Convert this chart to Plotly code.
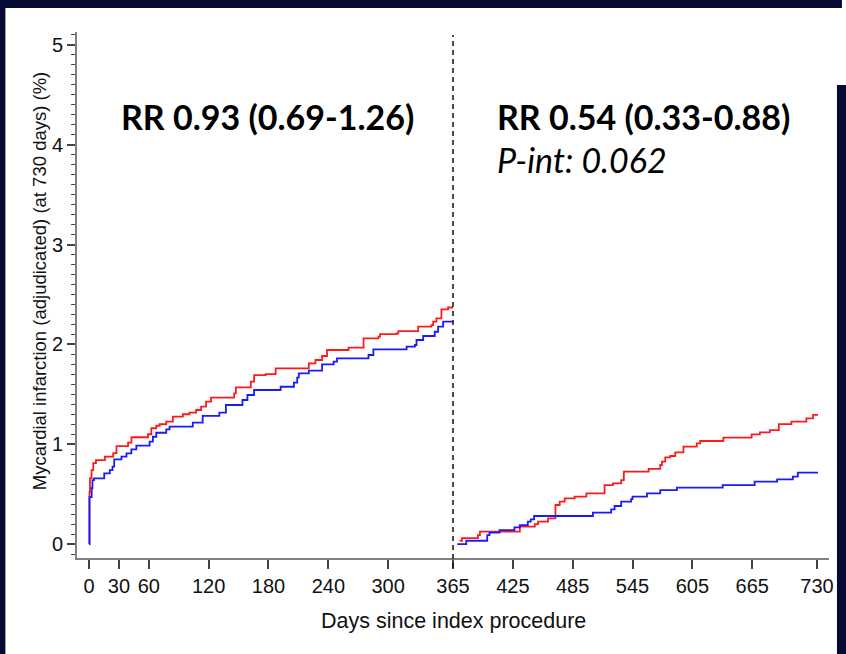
import plotly.graph_objects as go

# ---- data ----
red_y1_days = [0, 0.5, 1, 2.6, 4.3, 7, 16, 24.3, 27.6, 39.2, 42.6, 59.2, 62.5, 67.5, 70.8, 77.5, 84.1,
               94.1, 100.7, 107.4, 112.4, 117.4, 122.4, 145.6, 147.3, 162.3, 165.6, 177.2, 187.2,
               220.4, 227.1, 233.7, 238.7, 260.3, 275.3, 290.2, 291.9, 308.5, 310.2, 330.1, 343.4,
               345.1, 348.4, 353.4, 360, 365]
red_y1_vals = [0, 0.52, 0.66, 0.74, 0.81, 0.84, 0.875, 0.91, 0.98, 1.015, 1.07, 1.10, 1.16, 1.185, 1.20,
               1.226, 1.276, 1.30, 1.316, 1.343, 1.376, 1.426, 1.466, 1.51, 1.57, 1.627, 1.693, 1.703,
               1.76, 1.81, 1.844, 1.884, 1.944, 1.967, 2.061, 2.077, 2.104, 2.111, 2.134, 2.178, 2.194,
               2.228, 2.261, 2.351, 2.37, 2.37]

blue_y1_days = [0, 0.5, 2.7, 3.5, 5, 15.3, 20.9, 23.6, 25.3, 32.6, 37.6, 42.5, 47.5, 60.8, 64.1, 67.5,
                77.5, 80.8, 104.1, 114.0, 130.7, 137.3, 153.9, 158.9, 165.5, 192.2, 205.5, 208.8,
                210.4, 220.4, 233.7, 245.3, 248.7, 280.3, 285.2, 318.5, 326.8, 328.4, 335.1, 346.7,
                350.1, 355.1, 365]
blue_y1_vals = [0, 0.47, 0.56, 0.64, 0.658, 0.708, 0.741, 0.775, 0.848, 0.875, 0.909, 0.949, 0.985,
                1.025, 1.075, 1.115, 1.149, 1.176, 1.216, 1.283, 1.316, 1.393, 1.443, 1.493, 1.543,
                1.576, 1.617, 1.667, 1.71, 1.737, 1.80, 1.827, 1.861, 1.894, 1.951, 1.977, 1.994,
                2.044, 2.084, 2.127, 2.178, 2.228, 2.228]

red_y2_days = [371.7, 374, 390, 392, 432, 447, 450.3, 460.3, 467.7, 472, 477, 487, 498.7, 517, 525.3,
               533.6, 536.3, 561.2, 572.8, 574.5, 577.8, 582.8, 587.8, 596.1, 609.4, 612.8, 636.1,
               664.4, 672.7, 682.7, 691.7, 704.3, 719.3, 726, 731]
red_y2_vals = [0.033, 0.06, 0.09, 0.124, 0.174, 0.200, 0.224, 0.257, 0.391, 0.424, 0.458, 0.474, 0.508,
               0.591, 0.608, 0.641, 0.725, 0.752, 0.792, 0.825, 0.868, 0.882, 0.918, 0.975, 1.008,
               1.032, 1.066, 1.099, 1.119, 1.142, 1.202, 1.226, 1.259, 1.293, 1.293]

blue_y2_days = [369.3, 378.3, 399.3, 401.6, 411.6, 426.6, 432, 440, 443, 446.3, 505.3, 523.6, 527,
                533.6, 543.6, 545, 559.5, 572.8, 589.5, 635.4, 667.4, 690, 705.7, 710.7, 731]
blue_y2_vals = [0.0, 0.033, 0.09, 0.114, 0.14, 0.167, 0.19, 0.224, 0.247, 0.281, 0.314, 0.347, 0.381,
                0.424, 0.45, 0.474, 0.508, 0.541, 0.565, 0.591, 0.625, 0.648, 0.675, 0.715, 0.715]

x_ticks = [0, 30, 60, 120, 180, 240, 300, 365, 425, 485, 545, 605, 665, 730]
landmark_day = 365

rr_left = "RR 0.93 (0.69-1.26)"
rr_right = "RR 0.54 (0.33-0.88)"
p_int = "P-int: 0.062"
x_title = "Days since index procedure"
y_title = "Mycardial infarction (adjudicated) (at 730 days) (%)"

# ---- layout geometry (pixels) ----
W, H = 846, 654
L, R, T, B = 77, 13, 32, 96
PW, PH = W - L - R, H - T - B


def px(xp):
    return (xp - L) / PW


def py(yp):
    return (H - B - yp) / PH


NAVY = "#070a35"
RED = "#ff1a1a"
BLUE = "#1a1aff"

fig = go.Figure()
for d, v, c in [(red_y1_days, red_y1_vals, RED), (red_y2_days, red_y2_vals, RED),
                (blue_y1_days, blue_y1_vals, BLUE), (blue_y2_days, blue_y2_vals, BLUE)]:
    fig.add_trace(go.Scatter(x=d, y=v, mode="lines", line=dict(color=c, width=1.8, shape="hv"),
                             showlegend=False, hoverinfo="skip"))

fig.update_layout(
    width=W, height=H,
    margin=dict(l=L, r=R, t=T, b=B, pad=0),
    paper_bgcolor="white",
    plot_bgcolor="white",
    font=dict(family="Liberation Sans, Arial, sans-serif", color="#111"),
    showlegend=False,
)

fig.update_xaxes(
    range=[-12, 742], tickmode="array", tickvals=x_ticks, ticktext=[str(t) for t in x_ticks],
    showgrid=False, zeroline=False, showline=True, linecolor="#808080", linewidth=2,
    ticks="outside", ticklen=9, tickwidth=1.5, tickcolor="#444",
    tickfont=dict(size=20, family="Liberation Sans, Arial, sans-serif", color="#111"),
)
fig.update_yaxes(
    range=[-0.14, 5.13], tickmode="linear", tick0=0, dtick=1,
    showgrid=False, zeroline=False, showline=True, linecolor="#808080", linewidth=2,
    ticks="outside", ticklen=8, tickwidth=1.5, tickcolor="#444",
    tickfont=dict(size=20, family="Liberation Sans, Arial, sans-serif", color="#111"),
    minor=dict(dtick=0.1, tick0=0, ticks="outside", ticklen=4, tickwidth=1.2, tickcolor="#444",
               showgrid=False),
)

shapes = [
    # navy frame of the slide
    dict(type="rect", xref="paper", yref="paper", x0=px(0), x1=px(W), y0=py(8), y1=py(-5),
         fillcolor=NAVY, line=dict(width=0), layer="above"),
    dict(type="rect", xref="paper", yref="paper", x0=px(-5), x1=px(5), y0=py(H + 5), y1=py(0),
         fillcolor=NAVY, line=dict(width=0), layer="above"),
    dict(type="rect", xref="paper", yref="paper", x0=px(841), x1=px(W + 5), y0=py(H + 5), y1=py(85),
         fillcolor=NAVY, line=dict(width=0), layer="below"),
    # landmark dashed line
    dict(type="line", xref="x", yref="paper", x0=landmark_day, x1=landmark_day, y0=py(568), y1=py(35),
         line=dict(color="#111", width=1.5, dash="5px,4px"), layer="above"),
]
fig.update_layout(shapes=shapes)

ann = [
    dict(text=f"<b>{rr_left}</b>", x=px(119), y=py(116), xanchor="left", yanchor="middle",
         font=dict(family="Lato, sans-serif", size=34, color="#000")),
    dict(text=f"<b>{rr_right}</b>", x=px(497), y=py(116), xanchor="left", yanchor="middle",
         font=dict(family="Lato, sans-serif", size=34, color="#000")),
    dict(text=f"<i>{p_int}</i>", x=px(497), y=py(159), xanchor="left", yanchor="middle",
         font=dict(family="Lato, sans-serif", size=34, color="#000")),
    dict(text=x_title, x=px(455), y=py(621), xanchor="center", yanchor="middle",
         font=dict(size=21.5, color="#111")),
    dict(text=y_title, x=px(39), y=py(281), xanchor="center", yanchor="middle", textangle=-90,
         font=dict(size=18.5, color="#111")),
]
for a in ann:
    a.update(xref="paper", yref="paper", showarrow=False)
fig.update_layout(annotations=ann)

fig.write_html("out.html", config={"displayModeBar": False},
               post_script="document.body.style.margin='0';document.body.style.overflow='hidden';")
